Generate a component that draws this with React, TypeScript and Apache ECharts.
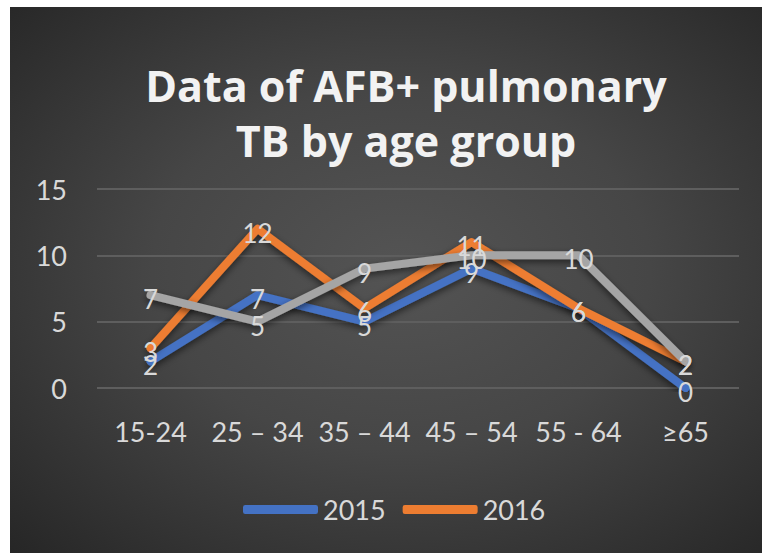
import React, { useEffect, useRef } from "react";
import * as echarts from "echarts";

const titleText = "Data of AFB+ pulmonary\nTB by age group";
const categories = ["15-24", "25 – 34", "35 – 44", "45 – 54", "55 - 64", "≥65"];
const values2015 = [2, 7, 5, 9, 6, 0];
const values2016 = [3, 12, 6, 11, 6, 2];
const values2017 = [7, 5, 9, 10, 10, 2];
const seriesNames = ["2015", "2016", "2017"];
const legendNames = ["2015", "2016"];
const yTicks = { min: 0, max: 15, interval: 5 };

export default function App() {
  const ref = useRef<HTMLDivElement>(null);
  useEffect(() => {
    if (!ref.current) return;
    const chart = echarts.init(ref.current, null, { renderer: "svg" });
    const mk = (name: string, data: number[], color: string) => ({
      name,
      type: "line",
      data,
      symbol: "circle",
      symbolSize: 1,
      itemStyle: { color },
      lineStyle: {
        color,
        width: 8,
        cap: "round",
        join: "round",
        shadowColor: "rgba(0,0,0,0.55)",
        shadowBlur: 7,
        shadowOffsetY: 3,
      },
      label: {
        show: true,
        position: "inside",
        offset: [0, 4],
        color: "#d9d9d9",
        fontFamily: "Lato",
        fontSize: 26,
      },
      emphasis: { disabled: true },
    });
    chart.setOption({
      animation: false,
      backgroundColor: "transparent",
      graphic: [
        {
          type: "text",
          x: 396,
          y: 106,
          style: {
            text: titleText,
            fill: "#f2f2f2",
            font: 'bold 43px "Open Sans"',
            textAlign: "center",
            textVerticalAlign: "middle",
            lineHeight: 55,
          },
        },
      ],
      legend: {
        data: legendNames,
        left: 228,
        top: 484,
        icon: "roundRect",
        itemWidth: 75,
        itemHeight: 9,
        itemGap: 17,
        textStyle: { color: "#d9d9d9", fontFamily: "Lato", fontSize: 27 },
      },
      grid: { left: 87, right: 23, top: 182, bottom: 165 },
      xAxis: {
        type: "category",
        data: categories,
        boundaryGap: true,
        axisLine: { show: false },
        axisTick: { show: false },
        axisLabel: {
          color: "#d9d9d9",
          fontFamily: "Lato",
          fontSize: 27,
          margin: 30,
          interval: 0,
        },
      },
      yAxis: {
        type: "value",
        min: yTicks.min,
        max: yTicks.max,
        interval: yTicks.interval,
        axisLine: { show: false },
        axisTick: { show: false },
        splitLine: { lineStyle: { color: "#5e5e5e", width: 2 } },
        axisLabel: {
          color: "#d9d9d9",
          fontFamily: "Lato",
          fontSize: 27,
          margin: 30,
        },
      },
      series: [
        mk(seriesNames[0], values2015, "#4472c4"),
        mk(seriesNames[1], values2016, "#ed7d31"),
        mk(seriesNames[2], values2017, "#a5a5a5"),
      ],
    });
    return () => chart.dispose();
  }, []);
  return (
    <div
      ref={ref}
      style={{
        position: "absolute",
        left: 10,
        top: 7,
        width: 752,
        height: 546,
        background:
          "radial-gradient(ellipse at 52% 48%, #545454 0%, #464646 45%, #262626 100%)",
      }}
    />
  );
}
